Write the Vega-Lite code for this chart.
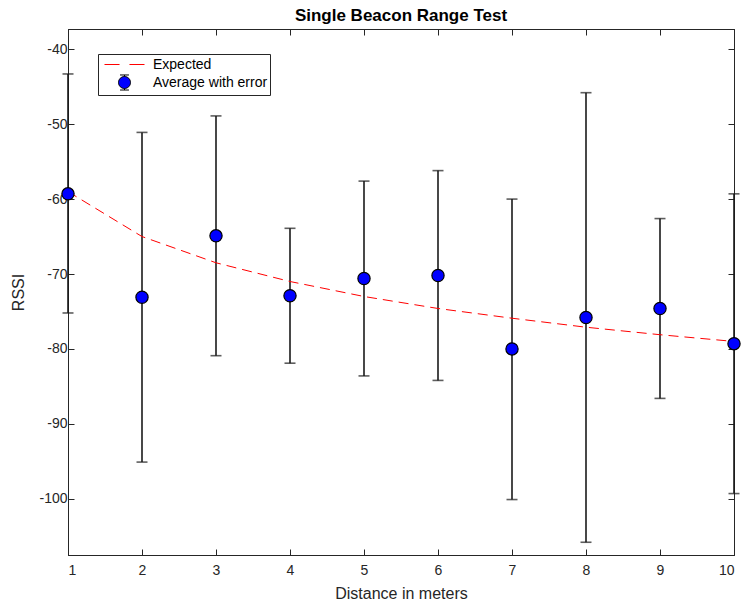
{
  "$schema": "https://vega.github.io/schema/vega-lite/v6.json",
  "width": 666,
  "height": 526,
  "autosize": "none",
  "padding": {"left": 68, "top": 29, "right": 10, "bottom": 46},
  "background": "white",
  "title": {"text": "Single Beacon Range Test", "font": "Liberation Sans", "fontSize": 17, "fontWeight": "bold", "color": "#000000", "offset": 4, "anchor": "middle"},
  "config": {
    "view": {"stroke": "#262626", "strokeWidth": 1},
    "axis": {"grid": false, "domainColor": "#262626", "tickColor": "#262626", "labelColor": "#262626", "titleColor": "#262626", "labelFont": "Liberation Sans", "titleFont": "Liberation Sans", "labelFontSize": 14, "titleFontSize": 16, "titleFontWeight": "normal", "tickSize": -6, "tickWidth": 1, "domainWidth": 1, "labelExpr": "datum.value + ''"}
  },
  "datasets": {
    "pts": [
      {"x": 1, "mean": -59.3, "lo": -75.2, "hi": -43.3, "series": "Average with error"},
      {"x": 2, "mean": -73.1, "lo": -95.1, "hi": -51.1, "series": "Average with error"},
      {"x": 3, "mean": -64.9, "lo": -80.9, "hi": -48.9, "series": "Average with error"},
      {"x": 4, "mean": -72.9, "lo": -81.9, "hi": -63.9, "series": "Average with error"},
      {"x": 5, "mean": -70.6, "lo": -83.6, "hi": -57.6, "series": "Average with error"},
      {"x": 6, "mean": -70.2, "lo": -84.2, "hi": -56.2, "series": "Average with error"},
      {"x": 7, "mean": -80.0, "lo": -100.1, "hi": -60.0, "series": "Average with error"},
      {"x": 8, "mean": -75.8, "lo": -105.8, "hi": -45.8, "series": "Average with error"},
      {"x": 9, "mean": -74.6, "lo": -86.6, "hi": -62.6, "series": "Average with error"},
      {"x": 10, "mean": -79.3, "lo": -99.3, "hi": -59.3, "series": "Average with error"}
    ],
    "exp": [
      {"x": 1, "rssi": -59.0},
      {"x": 2, "rssi": -65.0},
      {"x": 3, "rssi": -68.5},
      {"x": 4, "rssi": -71.0},
      {"x": 5, "rssi": -73.0},
      {"x": 6, "rssi": -74.6},
      {"x": 7, "rssi": -75.9},
      {"x": 8, "rssi": -77.1},
      {"x": 9, "rssi": -78.1},
      {"x": 10, "rssi": -79.0}
    ]
  },
  "layer": [
    {
      "data": {"name": "pts"},
      "mark": {"type": "rule", "color": "#1a1a1a", "strokeWidth": 1.6},
      "encoding": {
        "x": {"field": "x", "type": "quantitative", "scale": {"domain": [1, 10], "nice": false, "zero": false},
              "axis": {"orient": "bottom", "values": [1,2,3,4,5,6,7,8,9,10], "title": "Distance in meters", "labelPadding": 14, "titlePadding": 8}},
        "y": {"field": "lo", "type": "quantitative", "scale": {"domain": [-107.5, -37.3], "nice": false, "zero": false},
              "axis": {"orient": "left", "values": [-100,-90,-80,-70,-60,-50,-40], "title": "RSSI", "labelPadding": 7, "titlePadding": 12}},
        "y2": {"field": "hi"}
      }
    },
    {
      "data": {"name": "pts"},
      "mark": {"type": "tick", "orient": "horizontal", "color": "#1a1a1a", "size": 11, "thickness": 1.6},
      "encoding": {
        "x": {"field": "x", "type": "quantitative", "axis": null},
        "y": {"field": "lo", "type": "quantitative", "axis": null}
      }
    },
    {
      "data": {"name": "pts"},
      "mark": {"type": "tick", "orient": "horizontal", "color": "#1a1a1a", "size": 11, "thickness": 1.6},
      "encoding": {
        "x": {"field": "x", "type": "quantitative", "axis": null},
        "y": {"field": "hi", "type": "quantitative", "axis": null}
      }
    },
    {
      "data": {"name": "exp"},
      "mark": {"type": "line", "color": "#ff0000", "strokeWidth": 1, "strokeDash": [10, 6]},
      "encoding": {
        "x": {"field": "x", "type": "quantitative", "axis": {"orient": "top", "values": [1,2,3,4,5,6,7,8,9,10], "labels": false, "title": null}},
        "y": {"field": "rssi", "type": "quantitative", "axis": {"orient": "right", "values": [-100,-90,-80,-70,-60,-50,-40], "labels": false, "title": null}}
      }
    },
    {
      "data": {"name": "pts"},
      "mark": {"type": "point", "filled": true, "size": 150, "strokeWidth": 1.2, "opacity": 1, "fill": "#0000ff", "stroke": "#000000"},
      "encoding": {
        "x": {"field": "x", "type": "quantitative", "axis": null},
        "y": {"field": "mean", "type": "quantitative", "axis": null}
      }
    },
    {
      "data": {"name": "pts"},
      "mark": {"type": "point", "filled": false, "size": 256, "strokeWidth": 1, "opacity": 0},
      "encoding": {
        "x": {"field": "x", "type": "quantitative", "axis": null},
        "y": {"field": "mean", "type": "quantitative", "axis": null},
        "color": {"field": "series", "type": "nominal", "scale": {"domain": ["Expected", "Average with error"], "range": ["#ff0000", "#000000"]},
                  "legend": {"orient": "none", "legendX": 30, "legendY": 25, "title": null, "strokeColor": "#262626", "fillColor": "white", "padding": 2, "symbolOffset": 16, "labelOffset": 20, "labelFont": "Liberation Sans", "labelFontSize": 14, "labelColor": "#000000", "symbolSize": 256, "symbolStrokeWidth": 1, "symbolOpacity": 1, "rowPadding": 0}},
        "shape": {"field": "series", "type": "nominal", "scale": {"domain": ["Expected", "Average with error"], "range": ["M-2.5,0H-0.62M0.62,0H2.5", "M-0.56,-0.94H0.56M0,-0.94V-0.75M0,0.75V0.94M-0.56,0.94H0.56M-0.75,0A0.75,0.75,0,1,0,0.75,0A0.75,0.75,0,1,0,-0.75,0Z"]}},
        "fill": {"field": "series", "type": "nominal", "scale": {"domain": ["Expected", "Average with error"], "range": ["transparent", "#0000ff"]}}
      }
    }
  ],
  "resolve": {"axis": {"x": "independent", "y": "independent"}}
}
